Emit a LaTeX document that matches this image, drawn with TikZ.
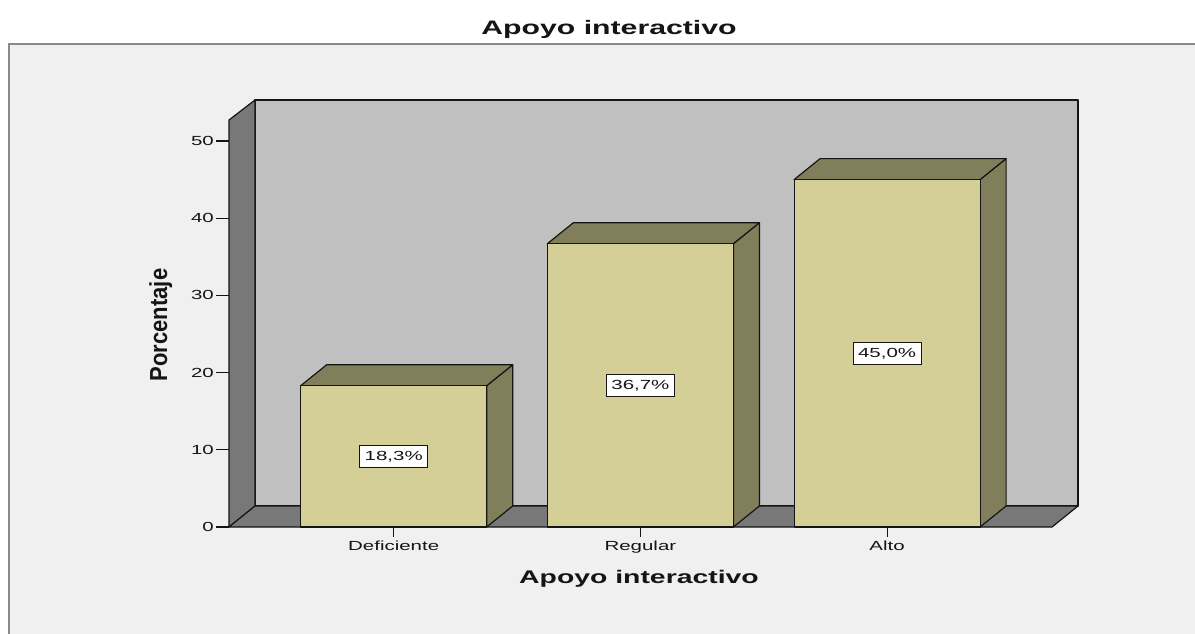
\documentclass[tikz,border=0pt]{standalone}
\usepackage{fontspec}
\setmainfont{Liberation Sans}
\usepackage{graphicx}
\definecolor{framebg}{HTML}{F0F0F0}
\definecolor{framegray}{HTML}{8A8A8A}
\definecolor{wallback}{HTML}{C0C0C0}
\definecolor{wallside}{HTML}{787878}
\definecolor{barfront}{HTML}{D3CF97}
\definecolor{barside}{HTML}{807E5B}
\definecolor{ink}{HTML}{151515}
\newcommand\hs[1]{\scalebox{1.55}[1]{#1}}
\begin{document}
\begin{tikzpicture}[x=1pt,y=-1pt,
  edge/.style={draw=ink,line width=1.2pt,line join=round},
  smalltext/.style={font=\fontsize{13.2}{14}\selectfont,text=ink,inner sep=0pt},
  vlabel/.style={smalltext,draw=ink,fill=white,line width=0.9pt,inner xsep=5pt,inner ysep=0pt,minimum height=22pt},
  tickline/.style={draw=ink,line width=1.1pt}]
\useasboundingbox (0,0) rectangle (1195,634);
\clip (0,0) rectangle (1195,634);
\fill[white] (0,0) rectangle (1195,634);
\filldraw[fill=framebg,draw=framegray,line width=2pt] (9,44) rectangle (1215,660);

% title
\node[anchor=base,font=\fontsize{19.5}{20}\selectfont\bfseries,text=ink,inner sep=0pt] (title) at (609,35) {\hs{Apoyo interactivo}};

% walls
\filldraw[edge,fill=wallback] (255,100) rectangle (1078,506);
\filldraw[edge,fill=wallside] (229,120) -- (255,100) -- (255,506) -- (229,527) -- cycle;
\filldraw[edge,fill=wallside] (229,527) -- (255,506) -- (1078,506) -- (1052,527) -- cycle;

% y ticks
\foreach \v in {0,10,...,50} {
  \pgfmathsetmacro\yy{527-7.72*\v}
  \draw[tickline] (216,\yy) -- (229,\yy);
  \node[smalltext,anchor=east] (yt\v) at (214,\yy) {\hs{\v}};
}

% bars
\foreach \i/\v in {0/18.3,1/36.7,2/45.0} {
  \pgfmathsetmacro\xa{300.7+246.7*\i}
  \pgfmathsetmacro\xb{\xa+186}
  \pgfmathsetmacro\yt{527-7.72*\v}
  \filldraw[edge,fill=barside] (\xb,527) -- (\xb+26,506) -- (\xb+26,\yt-21) -- (\xb,\yt) -- cycle;
  \filldraw[edge,fill=barside] (\xa,\yt) -- (\xa+26,\yt-21) -- (\xb+26,\yt-21) -- (\xb,\yt) -- cycle;
  \filldraw[edge,fill=barfront] (\xa,527) rectangle (\xb,\yt);
  \draw[tickline] (\xa+93,527) -- (\xa+93,537);
}

% value labels
\node[vlabel] (v1) at (393.7,456.4) {\hs{18,3\%}};
\node[vlabel] (v2) at (640.4,385.3) {\hs{36,7\%}};
\node[vlabel] (v3) at (887.1,353.3) {\hs{45,0\%}};

% category labels
\node[smalltext,anchor=base] (c1) at (393.7,550.7) {\hs{Deficiente}};
\node[smalltext,anchor=base] (c2) at (640.4,550.7) {\hs{Regular}};
\node[smalltext,anchor=base] (c3) at (887.1,550.7) {\hs{Alto}};

% axis titles
\node[anchor=base,font=\fontsize{18.3}{19}\selectfont\bfseries,text=ink,inner sep=0pt] (xtitle) at (639,583) {\hs{Apoyo interactivo}};
\node[rotate=90,anchor=base,font=\fontsize{22}{22}\selectfont\bfseries,text=ink,inner sep=0pt] (ytitle) at (167,325) {\scalebox{1}[1.12]{Porcentaje}};
\end{tikzpicture}
\end{document}
